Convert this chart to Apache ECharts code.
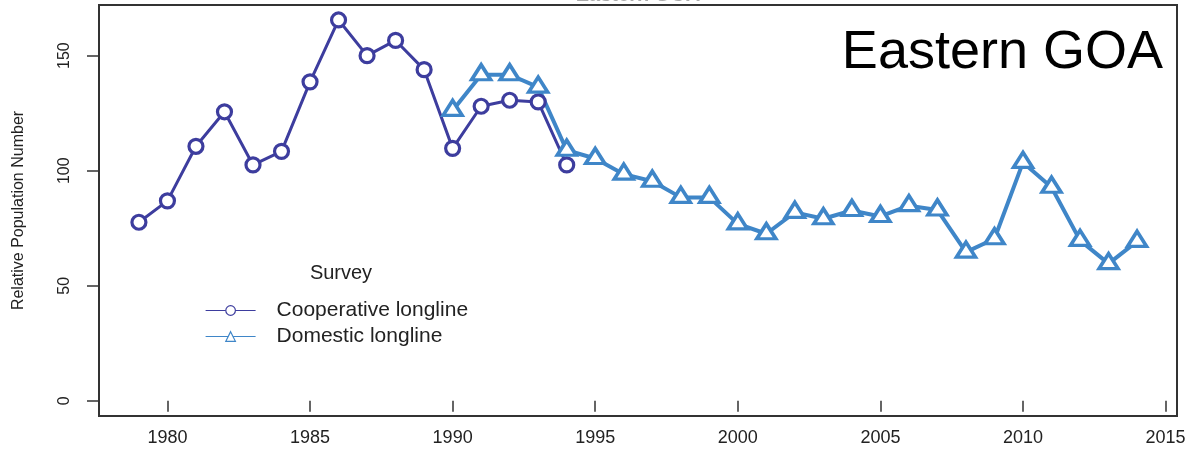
<!DOCTYPE html>
<html>
<head>
<meta charset="utf-8">
<script src="https://cdn.jsdelivr.net/npm/echarts@6/dist/echarts.min.js"></script>
<style>
html,body{margin:0;padding:0;background:#fff;}
#chart{width:1189px;height:458px;}
</style>
</head>
<body>
<div id="chart"></div>
<script>
// ---- data ----
var coopYears = [1979,1980,1981,1982,1983,1984,1985,1986,1987,1988,1989,1990,1991,1992,1993,1994];
var coopValues = [77.6,86.9,110.6,125.6,102.5,108.4,138.6,165.5,150.0,156.6,143.9,109.7,128.0,130.6,129.9,102.5];
var domYears = [1990,1991,1992,1993,1994,1995,1996,1997,1998,1999,2000,2001,2002,2003,2004,2005,2006,2007,2008,2009,2010,2011,2012,2013,2014];
var domValues = [126.2,141.7,141.7,136.3,108.9,105.3,98.5,95.4,88.4,88.4,76.9,72.6,81.9,79.1,82.7,80.1,84.8,82.9,64.6,70.4,103.6,92.8,69.7,59.6,69.3];
var xTicks = [1980,1985,1990,1995,2000,2005,2010,2015];
var yTicks = [0,50,100,150];
var seriesNames = ['Cooperative longline','Domestic longline'];

var coopColor = '#3d3d9e';
var domColor = '#3f86c8';
var font = 'Liberation Sans, Arial, sans-serif';

function pairs(xs, ys){ return xs.map(function(x,i){ return [x, ys[i]]; }); }

var chart = echarts.init(document.getElementById('chart'), null, {renderer:'canvas'});
chart.setOption({
  animation:false,
  backgroundColor:'#fff',
  grid:{left:99, right:12, top:5, bottom:42, show:true, borderColor:'#333', borderWidth:2, backgroundColor:'transparent'},
  xAxis:{
    type:'value', min:1977.6, max:2015.4,
    axisLine:{show:false},
    splitLine:{show:false},
    axisTick:{show:true, customValues:xTicks, length:11, lineStyle:{color:'#333', width:1.5}},
    axisLabel:{customValues:xTicks, fontSize:18, color:'#222', margin:13, fontFamily:font,
      formatter:function(v){ return String(v); }}
  },
  yAxis:{
    type:'value', min:-6.6, max:172,
    name:'Relative Population Number', nameLocation:'middle', nameGap:72,
    nameTextStyle:{fontSize:16, color:'#222', fontFamily:font},
    axisLine:{show:false},
    splitLine:{show:false},
    axisTick:{show:true, customValues:yTicks, length:12, lineStyle:{color:'#333', width:1.5}},
    axisLabel:{customValues:yTicks, rotate:90, fontSize:16, color:'#222', margin:26, fontFamily:font,
      formatter:function(v){ return String(v); }}
  },
  legend:{
    orient:'vertical', left:200, top:295, itemWidth:50, itemHeight:12, itemGap:5,
    data:seriesNames,
    textStyle:{fontSize:21, color:'#222', fontFamily:font, padding:[0,0,0,16]},
    lineStyle:{width:1.2},
    itemStyle:{borderWidth:1.2}
  },
  graphic:[
    {type:'text', x:1163, y:53, style:{text:'Eastern GOA', fill:'#000', font:'54px Liberation Sans, Arial, sans-serif', align:'right', verticalAlign:'middle'}},
    {type:'text', x:341, y:273, style:{text:'Survey', fill:'#222', font:'20px Liberation Sans, Arial, sans-serif', align:'center', verticalAlign:'middle'}},
    {type:'text', x:638, y:5.5, style:{text:'Eastern GOA', fill:'#aaa', font:'bold 20px Liberation Sans, Arial, sans-serif', align:'center', verticalAlign:'bottom'}}
  ],
  series:[
    {
      name:seriesNames[0], type:'line', data:pairs(coopYears, coopValues),
      symbol:'circle', symbolSize:14,
      lineStyle:{color:coopColor, width:3},
      itemStyle:{color:'#fff', borderColor:coopColor, borderWidth:3.2},
      emphasis:{disabled:true}
    },
    {
      name:seriesNames[1], type:'line', data:pairs(domYears, domValues),
      symbol:'triangle', symbolSize:[19,15], symbolOffset:[0,-2.5],
      lineStyle:{color:domColor, width:4},
      itemStyle:{color:'#fff', borderColor:domColor, borderWidth:3.5},
      emphasis:{disabled:true}
    }
  ]
});
</script>
</body>
</html>
